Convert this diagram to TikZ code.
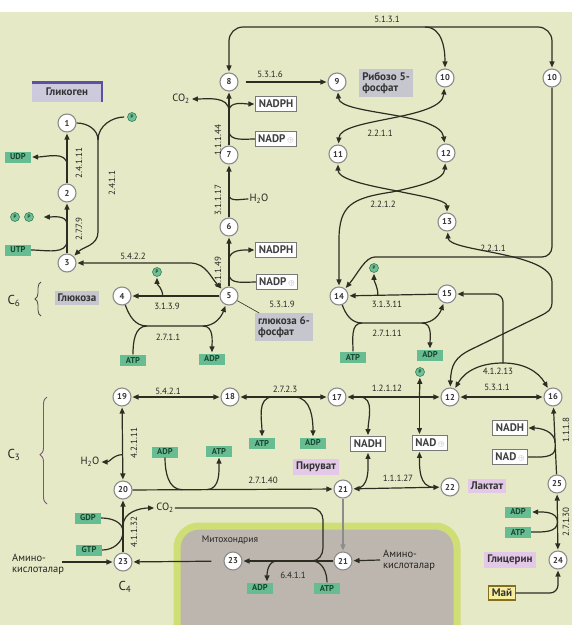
\documentclass[tikz,border=0pt]{standalone}
\usepackage{graphicx}
\usepackage{fontspec}
\setmainfont{PT Sans}
\usetikzlibrary{arrows.meta,calc,decorations.pathreplacing}
\definecolor{bggreen}{RGB}{229,233,197}
\definecolor{lncol}{RGB}{45,45,36}
\definecolor{circborder}{RGB}{140,140,140}
\definecolor{ecogreen}{RGB}{104,188,146}
\definecolor{ecotext}{RGB}{24,72,48}
\definecolor{phogreen}{RGB}{112,192,150}
\definecolor{phoborder}{RGB}{52,128,90}
\definecolor{cofborder}{RGB}{120,120,120}
\definecolor{labgray}{RGB}{198,198,206}
\definecolor{labpink}{RGB}{228,200,232}
\definecolor{glykfill}{RGB}{204,202,220}
\definecolor{glykedge}{RGB}{92,80,160}
\definecolor{mayfill}{RGB}{246,238,158}
\definecolor{mayedge}{RGB}{130,112,30}
\definecolor{mitoedge}{RGB}{208,222,118}
\definecolor{mitofill}{RGB}{188,182,174}
\definecolor{bracecol}{RGB}{120,90,120}
\newcommand{\nplus}{\,\textcolor{black!45}{\scalebox{.75}{$\oplus$}}}

\begin{document}
\begin{tikzpicture}[x=1pt,y=1pt,
  met/.style={circle,draw=circborder,fill=white,line width=1.1pt,minimum size=18pt,inner sep=0pt,font=\fontsize{8.5}{8.5}\selectfont\bfseries,text=black!80},
  eco/.style={fill=ecogreen,text=ecotext,font=\fontsize{8.5}{9}\selectfont\bfseries,inner sep=1.5pt,minimum height=11pt,minimum width=26pt},
  pho/.style={circle,fill=phogreen,draw=phoborder,line width=.6pt,minimum size=9pt,inner sep=0pt,font=\fontsize{5}{5}\selectfont\bfseries,text=phoborder!50!black},
  cof/.style={draw=cofborder,fill=white,line width=.9pt,font=\fontsize{11}{11}\selectfont\bfseries,text=black!75,minimum height=15pt,inner xsep=3pt,inner ysep=1pt},
  lab/.style={fill=labgray,font=\fontsize{11}{11.5}\selectfont\bfseries,text=black!80,inner sep=3pt,align=left},
  ec/.style={font=\fontsize{9}{9}\selectfont,text=black!85,inner sep=0pt},
  ecv/.style={ec,rotate=90},
  txt/.style={font=\fontsize{10.5}{11}\selectfont,text=black!85,inner sep=1pt},
  ln/.style={draw=lncol,line width=1.2pt},
  arr/.style={ln,-{Triangle[length=6pt,width=5pt]},shorten >=1pt},
  darr/.style={ln,{Triangle[length=6pt,width=5pt]}-{Triangle[length=6pt,width=5pt]},shorten >=1pt,shorten <=1pt}]
\useasboundingbox (0,0) rectangle (572,-625);
\clip (0,0) rectangle (572,-625);
\fill[white] (0,0) rectangle (572,-625);
\fill[bggreen] (0,-12) rectangle (572,-625);
\draw[mitoedge,line width=7pt,fill=mitofill,rounded corners=22pt] (177,-526) rectangle (457,-660);

\node[met] (n1) at (67,-123) {1};
\node[met] (n2) at (67,-193) {2};
\node[met] (n3) at (67,-263) {3};
\node[met] (n4) at (122,-296) {4};
\node[met] (n5) at (229,-296) {5};
\node[met] (n6) at (229,-227) {6};
\node[met] (n7) at (229,-155) {7};
\node[met] (n8) at (229,-82) {8};
\node[met] (n9) at (337,-82) {9};
\node[met] (n10) at (445,-78) {10};
\node[met] (n10b) at (552,-78) {10};
\node[met] (n11) at (338,-154) {11};
\node[met] (n12a) at (446,-153) {12};
\node[met] (n13) at (447,-222) {13};
\node[met] (n14) at (339,-296) {14};
\node[met] (n15) at (447,-294) {15};
\node[met] (n12) at (450,-397) {12};
\node[met] (n16) at (553,-397) {16};
\node[met] (n17) at (337,-397) {17};
\node[met] (n18) at (230,-397) {18};
\node[met] (n19) at (122,-397) {19};
\node[met] (n20) at (123,-490) {20};
\node[met] (n21) at (343,-489) {21};
\node[met] (n22) at (450,-487) {22};
\node[met] (n25) at (557,-484) {25};
\node[met] (n24) at (558,-560) {24};
\node[met] (n23) at (123,-562) {23};
\node[met] (n23m) at (233,-561) {23};
\node[met] (n21m) at (343,-561) {21};

\node[lab,fill=glykfill,minimum width=70pt,minimum height=19pt] (glyk) at (67,-92) {Гликоген};
\draw[glykedge,line width=2.5pt] (glyk.north west) -- (glyk.north east) -- (glyk.south east);
\node[pho] (p1) at (132,-117) {P};
\node[eco] (udp) at (18,-157) {UDP};
\node[pho] (pp1) at (15,-217) {P};
\node[pho] (pp2) at (29,-217) {P};
\node[eco] (utp) at (18,-250) {UTP};
\node[txt,font=\fontsize{13}{13}\selectfont] (c6) at (14,-301) {C\textsubscript{6}};
\node[lab] (glu) at (77,-298) {Глюкоза};
\node[pho] (p2) at (157,-272) {P};
\node[txt] (co2a) at (181,-99) {CO\textsubscript{2}};
\node[cof] (nadph1) at (276,-104) {NADPH};
\node[cof] (nadp1) at (276,-139) {NADP\nplus};
\node[txt] (h2oa) at (259,-199) {H\textsubscript{2}O};
\node[cof] (nadph2) at (276,-250) {NADPH};
\node[cof] (nadp2) at (277,-282) {NADP\nplus};
\node[lab] (r5p) at (386,-83) {Рибозо 5-\\фосфат};
\node[lab] (g6p) at (284,-327) {глюкоза 6-\\фосфат};
\node[pho] (p3) at (374,-268) {P};
\node[eco] (atp1) at (133,-360) {ATP};
\node[eco] (adp1) at (212,-359) {ADP};
\node[eco] (atp2) at (353,-357) {ATP};
\node[eco] (adp2) at (430,-355) {ADP};
\node[pho] (p4) at (420,-372) {P};
\node[cof] (nadh1) at (368,-444) {NADH};
\node[cof] (nad1) at (430,-443) {NAD\nplus};
\node[eco] (atp3) at (262,-443) {ATP};
\node[eco] (adp3) at (313,-443) {ADP};
\node[cof] (nadh2) at (510,-428) {NADH};
\node[cof] (nad2) at (510,-457) {NAD\nplus};
\node[eco] (adp4) at (165,-452) {ADP};
\node[eco] (atp4) at (219,-451) {ATP};
\node[lab,fill=labpink] (pyr) at (316,-467) {Пируват};
\node[lab,fill=labpink] (lac) at (487,-486) {Лактат};
\node[txt] (h2ob) at (90,-462) {H\textsubscript{2}O};
\node[txt,font=\fontsize{13}{13}\selectfont] (c3) at (14,-455) {C\textsubscript{3}};
\node[eco] (gdp) at (88,-518) {GDP};
\node[eco] (gtp) at (89,-550) {GTP};
\node[txt] (co2b) at (165,-508) {CO\textsubscript{2}};
\node[txt,align=left,anchor=west] (amina) at (11,-564) {Амино-\\кислоталар};
\node[txt,font=\fontsize{13}{13}\selectfont] (c4) at (125,-587) {C\textsubscript{4}};
\node[txt,font=\fontsize{9.5}{10}\selectfont] (mito) at (230,-540) {Митохондрия};
\node[txt,align=left,anchor=west] (aminb) at (382,-560) {Амино-\\кислоталар};
\node[eco] (adp5) at (260,-588) {ADP};
\node[eco] (atp5) at (327,-588) {ATP};
\node[eco] (adp6) at (518,-512) {ADP};
\node[eco] (atp6) at (518,-532) {ATP};
\node[lab,fill=labpink] (glyc) at (510,-560) {Глицерин};
\node[lab,fill=mayfill,draw=mayedge,line width=1.2pt] (may) at (502,-593) {Май};

\draw[decorate,decoration={brace,amplitude=6pt},line width=.8pt,black!70] (41,-316) -- (41,-282);
\draw[decorate,decoration={brace,amplitude=7pt,aspect=.46},line width=.9pt,bracecol] (47,-504) -- (47,-397);

\node[ecv] (e2411) at (79,-163) {2.4.1.11};
\node[ecv] (e241) at (112,-183) {2.4.1.1};
\node[ecv] (e2779) at (79,-229) {2.7.7.9};
\node[ec] (e5422) at (133,-256) {5.4.2.2};
\node[ec] (e3139) at (167,-306) {3.1.3.9};
\node[ec] (e2711) at (168,-337) {2.7.1.1};
\node[ecv] (e11144) at (218,-140) {1.1.1.44};
\node[ec] (e5316) at (270,-74) {5.3.1.6};
\node[ec] (e5131) at (387,-19) {5.1.3.1};
\node[ec] (e2211a) at (380,-133) {2.2.1.1};
\node[ecv] (e31117) at (218,-200) {3.1.1.17};
\node[ecv] (e11149) at (218,-272) {1.1.1.49};
\node[ec] (e5319) at (282,-304) {5.3.1.9};
\node[ec] (e2212) at (383,-204) {2.2.1.2};
\node[ec] (e2211b) at (493,-248) {2.2.1.1};
\node[ec] (e31311) at (387,-304) {3.1.3.11};
\node[ec] (e27111) at (387,-333) {2.7.1.11};
\node[ec] (e41213) at (498,-371) {4.1.2.13};
\node[ec] (e5311) at (497,-387) {5.3.1.1};
\node[ec] (e12112) at (387,-388) {1.2.1.12};
\node[ec] (e2723) at (285,-389) {2.7.2.3};
\node[ec] (e5421) at (168,-391) {5.4.2.1};
\node[ecv] (e42111) at (134,-443) {4.2.1.11};
\node[ecv] (e1118) at (566,-430) {1.1.1.8};
\node[ec] (e27140) at (263,-480) {2.7.1.40};
\node[ec] (e11127) at (398,-478) {1.1.1.27};
\node[ecv] (e41132) at (134,-532) {4.1.1.32};
\node[ec] (e6411) at (293,-575) {6.4.1.1};
\node[ecv] (e27130) at (566,-522) {2.7.1.30};

\draw[arr] (n2) -- (n1);
\draw[arr] ($(n1)!.6!(n2)$) to[out=90,in=0] (udp.east);
\draw[arr] (n3) -- (n2);
\draw[arr] ($(n2)!.45!(n3)$) to[out=90,in=0] ([xshift=9pt]pp2.east);
\draw[ln] (utp.east) to[out=0,in=-90] ($(n2)!.68!(n3)$);

\coordinate (j1) at (98,-140);
\draw[ln] (n1) to[out=0,in=90] (j1);
\draw[ln,shorten <=3pt] (p1) to[out=180,in=90] (j1);
\draw[arr] (j1) -- (98,-232) to[out=-90,in=45] (n3);
\draw[darr] (n3) -- (190,-263) to[out=0,in=135] (n5);

\draw[arr] (n5) -- (n4);
\draw[arr] ($(n4)!.38!(n5)$) to[out=90,in=-90] (p2);
\coordinate (j2) at (147,-326);
\coordinate (j3) at (203,-326);
\draw[ln] (n4) to[out=-70,in=180] (j2);
\draw[ln] (atp1) to[out=90,in=180] (j2);
\draw[arr] (j2) -- (j3) to[out=0,in=-110] (n5);
\draw[arr] (j3) to[out=0,in=90] (adp1);
\draw[line width=.6pt,lncol] (n5) -- (g6p);

\draw[arr] (n5) -- (n6);
\draw[arr] ($(n5)!.52!(n6)$) to[out=90,in=180] (nadph2.west);
\draw[ln] (nadp2.west) to[out=180,in=-90] ($(n5)!.32!(n6)$);
\draw[arr] (n6) -- (n7);
\draw[ln] (h2oa.west) to[out=180,in=-90] ($(n6)!.45!(n7)$);
\draw[arr] (n7) -- (n8);
\draw[arr] ($(n7)!.6!(n8)$) to[out=90,in=0] (co2a.east);
\draw[arr] ($(n7)!.6!(n8)$) to[out=90,in=180] (nadph1.west);
\draw[ln] (nadp1.west) to[out=180,in=-90] ($(n7)!.33!(n8)$);
\draw[arr,shorten <=7pt] (n8) -- (n9);

\coordinate (j4) at (425,-27);
\draw[darr,rounded corners=14pt] (n8) |- (j4) -| (n10b);
\draw[arr] (j4) to[out=0,in=90] (n10);

\draw[darr] (n9) .. controls (340,-115) and (440,-112) .. (n12a);
\draw[darr] (n11) .. controls (340,-118) and (442,-120) .. (n10);
\draw[darr] (n11) .. controls (338,-178) and (360,-184) .. (392,-190) .. controls (420,-196) and (447,-200) .. (n13);
\draw[darr] (n12a) .. controls (444,-180) and (420,-186) .. (392,-192) .. controls (352,-198) and (339,-205) .. (339,-240) -- (n14);

\draw[arr,rounded corners=10pt] (n10b) -- (552,-257) -- (385,-257) to[out=180,in=50] (n14);
\draw[darr] (n13) .. controls (449,-252) and (552,-252) .. (552,-282) -- (552,-302) .. controls (552,-310) and (548,-312) .. (540,-316) -- (472,-349) .. controls (455,-357) and (451,-365) .. (n12);

\draw[arr] (n15) -- (n14);
\draw[arr] ($(n14)!.36!(n15)$) to[out=90,in=-90] (p3);
\coordinate (j5) at (362,-323);
\coordinate (j6) at (422,-323);
\draw[ln] (n14) to[out=-70,in=180] (j5);
\draw[ln] (atp2) to[out=90,in=180] (j5);
\draw[arr] (j5) -- (j6) to[out=0,in=-110] (n15);
\draw[arr] (j6) to[out=0,in=90] (adp2);

\coordinate (j7) at (503,-363);
\draw[arr,rounded corners=8pt] (j7) |- (n15);
\draw[arr] (j7) to[out=180,in=60] (n12);
\draw[arr] (j7) to[out=0,in=120] (n16);
\draw[darr] (n12) -- (n16);

\draw[arr] (n25) -- (n16);
\draw[arr] ($(n25)!.47!(n16)$) to[out=90,in=0] (nadh2.east);
\draw[ln] (nad2.east) to[out=0,in=-90] ($(n25)!.42!(n16)$);

\draw[darr] (n17) -- (n12);
\coordinate (j8) at ($(n17)!.73!(n12)$);
\coordinate (j9) at ($(n17)!.2!(n12)$);
\draw[arr] (j8) -- (p4);
\draw[arr] (j8) -- (j8 |- nad1.north);
\draw[arr] (j9) to[out=0,in=90] (nadh1.north);

\draw[darr] (n18) -- (n17);
\draw[arr] ($(n18)!.4!(n17)$) to[out=180,in=90] (atp3.north);
\draw[arr] ($(n18)!.6!(n17)$) to[out=0,in=90] (adp3.north);
\draw[darr] (n19) -- (n18);
\draw[darr] (n19) -- (n20);
\draw[arr] ($(n19)!.62!(n20)$) to[out=180,in=0] (h2ob.east);

\draw[arr] (n20) -- (n21);
\draw[ln] (adp4.south) to[out=-90,in=180] ($(n20)!.27!(n21)$);
\draw[arr] ($(n20)!.38!(n21)$) to[out=0,in=-90] (atp4.south);
\draw[darr] (n21) -- (n22);
\draw[arr] ($(n21)!.11!(n22)$) to[out=0,in=-90] (nadh1.south);
\draw[arr] ($(n21)!.85!(n22)$) to[out=180,in=-90] (j8 |- nad1.south);

\draw[arr,draw=black!45] (n21) -- (n21m);
\draw[arr] (n21m) -- (n23m);
\coordinate (j10) at (312,-561);
\draw[ln] (co2b.east) -- (312,-508) to[out=0,in=90] (323,-520) -- (323,-548) to[out=-90,in=0] (j10);
\draw[ln] (atp5.north) to[out=90,in=0] (j10);
\draw[arr] ($(n23m)!.4!(n21m)$) to[out=180,in=90] ([xshift=7pt]adp5.north);
\draw[arr,shorten <=12pt] (n23m) -- (n23);
\coordinate (aa1) at (62,-562);
\draw[arr] (aa1) -- (n23);
\coordinate (aa2) at (380,-560);
\draw[arr] (aa2) -- (n21m);

\draw[arr] (n23) -- (n20);
\draw[arr] ($(n23)!.5!(n20)$) to[out=90,in=180] (co2b.west);
\draw[ln] (gdp.east) to[out=0,in=90] ($(n23)!.42!(n20)$);
\draw[ln] (gtp.east) to[out=0,in=-90] ($(n23)!.42!(n20)$);

\draw[arr,rounded corners=8pt] (may.east) -| (n24);
\draw[darr] (n24) -- (n25);
\draw[arr] ($(n24)!.5!(n25)$) to[out=90,in=0] (adp6.east);
\draw[ln] (atp6.east) to[out=0,in=-90] ($(n24)!.5!(n25)$);
\end{tikzpicture}
\end{document}
